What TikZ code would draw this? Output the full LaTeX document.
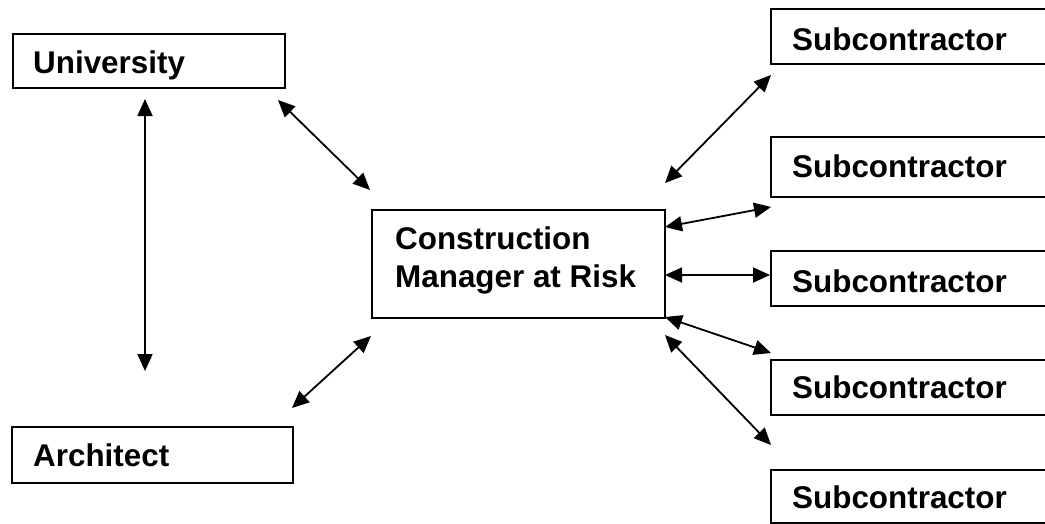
\documentclass[tikz,border=0pt]{standalone}
\usepackage{fontspec}
\setmainfont{Liberation Sans}
\usetikzlibrary{arrows.meta}
\begin{document}
\begin{tikzpicture}[x=1pt,y=-1pt,
  box/.style={draw=black,line width=2pt,inner sep=0pt,anchor=north west},
  lbl/.style={inner sep=0pt,anchor=base west,font=\fontsize{31.4}{37}\selectfont\bfseries},
  link/.style={line width=1.8pt,{Triangle[length=17pt,width=15pt]}-{Triangle[length=17pt,width=15pt]}}]
\clip (0,0) rectangle (1045,523);
\fill[white] (0,0) rectangle (1045,523);
% boxes
\node[box,minimum width=272pt,minimum height=54pt] (uni) at (12,33) {};
\node[box,minimum width=281pt,minimum height=56pt] (arch) at (11,426) {};
\node[box,minimum width=293pt,minimum height=108pt] (cm) at (371,209) {};
\node[box,minimum width=300pt,minimum height=55pt] (s1) at (770,8) {};
\node[box,minimum width=300pt,minimum height=60pt] (s2) at (770,136) {};
\node[box,minimum width=300pt,minimum height=55pt] (s3) at (770,250) {};
\node[box,minimum width=300pt,minimum height=55pt] (s4) at (770,359) {};
\node[box,minimum width=300pt,minimum height=53pt] (s5) at (770,469) {};
% labels
\node[lbl] (uniT) at (33,73) {University};
\node[lbl] (archT) at (33,466) {Architect};
\node[lbl] (cmT1) at (395,249) {Construction};
\node[lbl] (cmT2) at (395,287) {Manager at Risk};
\node[lbl] (s1T) at (792,50) {Subcontractor};
\node[lbl] (s2T) at (792,177) {Subcontractor};
\node[lbl] (s3T) at (792,292) {Subcontractor};
\node[lbl] (s4T) at (792,398) {Subcontractor};
\node[lbl] (s5T) at (792,508) {Subcontractor};
% arrow ends
\coordinate (a1u) at (278,100); \coordinate (a1c) at (370,190);
\coordinate (a2u) at (145,99);  \coordinate (a2a) at (145,371);
\coordinate (a3a) at (292,408); \coordinate (a3c) at (371,336);
\coordinate (b1c) at (665,183); \coordinate (b1s) at (771,75);
\coordinate (b2c) at (665,227); \coordinate (b2s) at (771,207);
\coordinate (b3c) at (665,275); \coordinate (b3s) at (770,275);
\coordinate (b4c) at (665,317); \coordinate (b4s) at (771,353);
\coordinate (b5c) at (665,335); \coordinate (b5s) at (771,445);
% connectors
\draw[link] (a1u) -- (a1c);
\draw[link] (a2u) -- (a2a);
\draw[link] (a3a) -- (a3c);
\draw[link] (b1c) -- (b1s);
\draw[link] (b2c) -- (b2s);
\draw[link] (b3c) -- (b3s);
\draw[link] (b4c) -- (b4s);
\draw[link] (b5c) -- (b5s);
\end{tikzpicture}
\end{document}
